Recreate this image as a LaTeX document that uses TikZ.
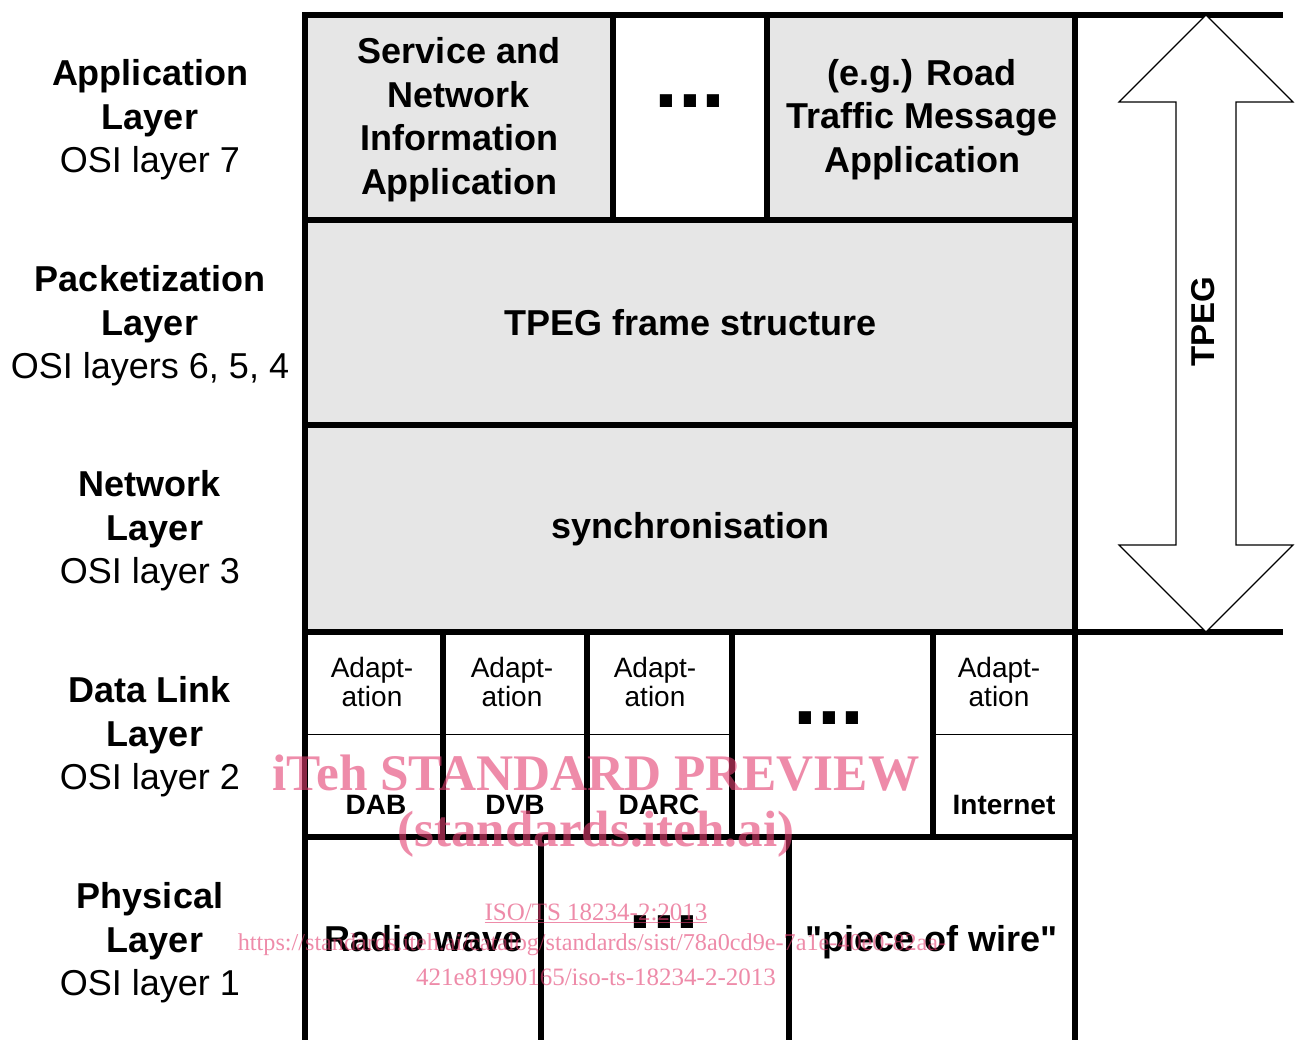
\documentclass[tikz,border=0pt]{standalone}
\usepackage{fontspec}
\setmainfont{Liberation Sans}
\newfontfamily\qfont{Liberation Sans}[Ligatures=TeXOff]
\newfontfamily\wmfont{Liberation Serif}
\definecolor{cellgray}{RGB}{230,230,230}
\definecolor{wmpink}{RGB}{227,63,113}
\begin{document}
\begin{tikzpicture}[x=1pt,y=-1pt,
  cell/.style={draw=black, line width=6.5pt, inner sep=0pt, outer sep=0pt, align=center,
    font=\fontsize{36}{43.5}\selectfont\bfseries},
  lbl/.style={align=center, inner sep=0pt, font=\fontsize{36}{43.5}\selectfont},
  big/.style={inner sep=0pt, font=\fontsize{36}{43.5}\selectfont\bfseries},
  small/.style={align=center, inner sep=0pt, font=\fontsize{28}{28.5}\selectfont},
  smallb/.style={inner sep=0pt, anchor=base, font=\fontsize{28}{28.5}\selectfont\bfseries},
  dots/.style={inner sep=0pt, anchor=base, font=\fontsize{86}{86}\selectfont\bfseries},
  thinline/.style={line width=1.3pt},
  extline/.style={line width=6.5pt},
  wm/.style={inner sep=0pt, text=wmpink, text opacity=0.6},
]
\useasboundingbox (0,0) rectangle (1295,1039);

% ---------- Application layer row
\node[cell, fill=cellgray, minimum width=308pt, minimum height=205pt] (sni) at (459,117.5) {};
\node[cell, fill=white, minimum width=154pt, minimum height=205pt] (appdots) at (690,117.5) {};
\node[cell, fill=cellgray, minimum width=308pt, minimum height=205pt] (rtm) at (921,117.5) {};
\node[big, align=center] (tsni) at (459,119.5) {Service and\\Network\\Information\\Application};
\node[big, align=center] (trtm) at (922,119.5) {(e.g.) Road\\Traffic Message\\Application};

% ---------- Packetization and network rows
\node[cell, fill=cellgray, minimum width=770pt, minimum height=205pt] (pack) at (690,322.5) {};
\node[cell, fill=cellgray, minimum width=770pt, minimum height=207pt] (net) at (690,528.5) {};
\node[big] (tpack) at (690.5,323) {TPEG frame structure};
\node[big] (tnet) at (690.5,529) {synchronisation};

% ---------- Data link row
\node[cell, fill=white, minimum width=138pt, minimum height=205pt] (dab) at (374,734.5) {};
\node[cell, fill=white, minimum width=144pt, minimum height=205pt] (dvb) at (515,734.5) {};
\node[cell, fill=white, minimum width=145pt, minimum height=205pt] (darc) at (659.5,734.5) {};
\node[cell, fill=white, minimum width=201pt, minimum height=205pt] (dldots) at (832.5,734.5) {};
\node[cell, fill=white, minimum width=142pt, minimum height=205pt] (inet) at (1004,734.5) {};
\draw[thinline] (dab.west) -- (darc.east);
\draw[thinline] (inet.west) -- (inet.east);

% ---------- Physical row (open at the bottom)
\begin{scope}
\clip (0,0) rectangle (1295,1039);
\node[cell, fill=white, minimum width=236pt, minimum height=213pt] (radio) at (423,943.5) {};
\node[cell, fill=white, minimum width=248pt, minimum height=213pt] (phdots) at (665,943.5) {};
\node[cell, fill=white, minimum width=286pt, minimum height=213pt] (wire) at (932,943.5) {};
\end{scope}

% ---------- extension lines and TPEG arrow
\draw[extline] (rtm.north east) -- ++(208,0);
\draw[extline] (net.south east) -- ++(208,0);
\coordinate (atop) at (1206,15);
\coordinate (abot) at (1206,632);
\draw[line width=1.2pt, fill=white, line join=miter]
  (atop) -- (1293,102) -- (1236,102) -- (1236,545) -- (1293,545) -- (abot)
  -- (1119,545) -- (1176,545) -- (1176,102) -- (1119,102) -- cycle;
\node[rotate=90, inner sep=0pt, font=\fontsize{33}{33}\selectfont\bfseries] (tpeg) at (1203,322) {TPEG};

% ---------- texts in cells
\node[dots] (d1) at (690,107) {...};
\node[dots] (d2) at (829,724) {...};
\node[dots] (d3) at (664,928) {...};

\node[small] (ad1) at (372,682) {Adapt-\\ation};
\node[small] (ad2) at (512,682) {Adapt-\\ation};
\node[small] (ad3) at (655,682) {Adapt-\\ation};
\node[small] (ad5) at (999,682) {Adapt-\\ation};
\node[smallb] (tdab) at (376,814) {DAB};
\node[smallb] (tdvb) at (515,814) {DVB};
\node[smallb] (tdarc) at (659,814) {DARC};
\node[smallb] (tinet) at (1004,814) {Internet};

\node[big, anchor=base] (tradio) at (423.5,951) {Radio wave};
\node[big, anchor=base] (twire) at (931.5,951) {\qfont\bfseries "piece of wire"};

% ---------- layer labels
\node[lbl] (l7) at (150,120) {{\bfseries Application}\\{\bfseries Layer}\\OSI layer 7};
\node[lbl] (l654) at (150,326) {{\bfseries Packetization}\\{\bfseries Layer}\\OSI layers 6, 5, 4};
\node[lbl] (l3) at (150,531) {{\bfseries Network}\\{\bfseries\hspace*{10pt}Layer}\\OSI layer 3};
\node[lbl] (l2) at (150,737) {{\bfseries Data Link}\\{\bfseries\hspace*{10pt}Layer}\\OSI layer 2};
\node[lbl] (l1) at (150,943) {{\bfseries Physical}\\{\bfseries\hspace*{10pt}Layer}\\OSI layer 1};

% ---------- watermark
\node[wm, font=\wmfont\bfseries\fontsize{51.3}{51}\selectfont] (wm1) at (596,773) {iTeh STANDARD PREVIEW};
\node[wm, font=\wmfont\bfseries\fontsize{51}{51}\selectfont] (wm2) at (596,834) {(standards.iteh.ai)};
\node[wm, font=\wmfont\fontsize{25}{25}\selectfont] (wm3) at (596,913) {\underline{ISO/TS 18234-2:2013}};
\node[wm, font=\wmfont\fontsize{24.2}{25}\selectfont] (wm4) at (592,945) {https://standards.iteh.ai/catalog/standards/sist/78a0cd9e-7a1e-40e0-82aa-};
\node[wm, font=\wmfont\fontsize{25}{25}\selectfont] (wm5) at (596,977) {421e81990165/iso-ts-18234-2-2013};
\end{tikzpicture}
\end{document}
